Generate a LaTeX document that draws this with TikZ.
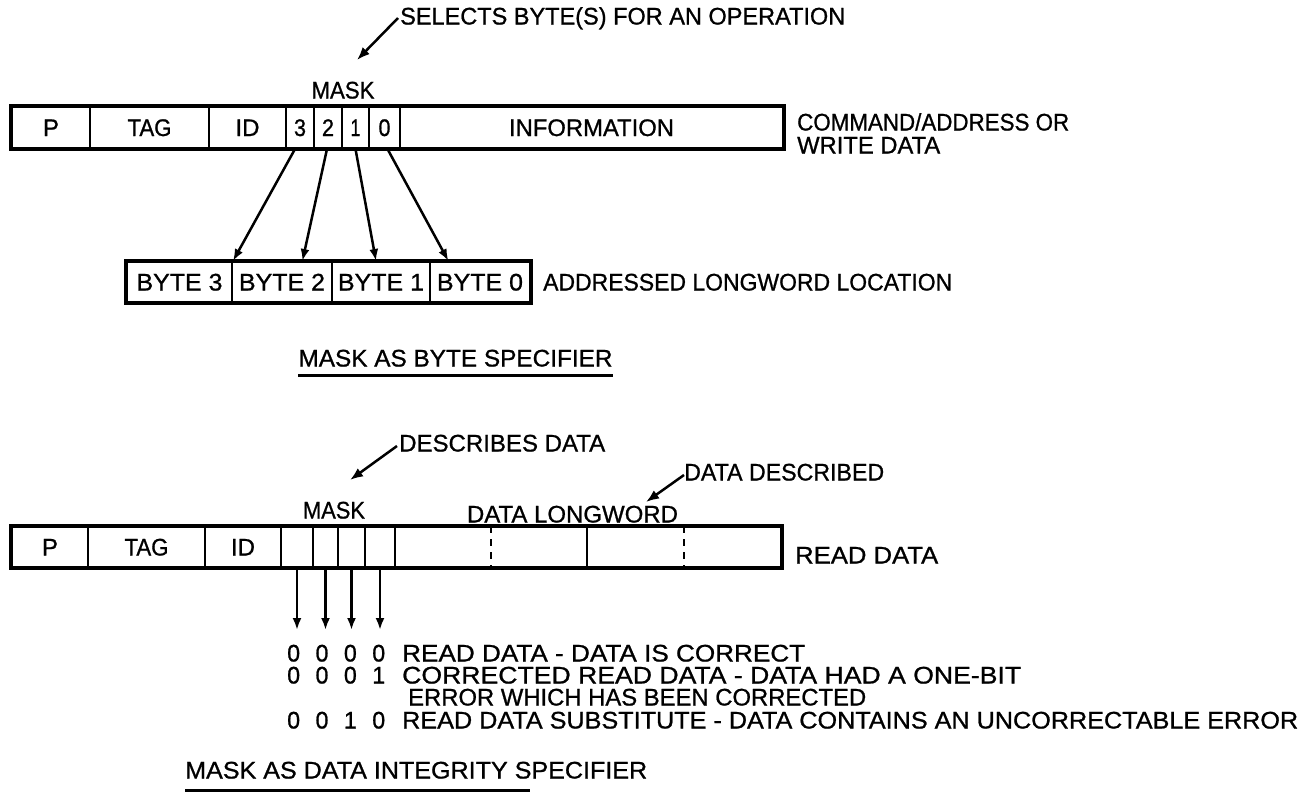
\documentclass[tikz,border=0pt]{standalone}
\usepackage{fontspec}
\setmainfont{Liberation Sans}[FakeBold=0.9]
\usepackage{graphicx}
\usetikzlibrary{arrows.meta,calc}
\newcommand{\fw}[2]{\resizebox{#1pt}{\height}{#2}}
\begin{document}
\begin{tikzpicture}[x=1pt,y=-1pt,
  every node/.style={font=\fontsize{24}{28}\selectfont},
  lbl/.style={inner sep=0pt, text height=17pt, text depth=0pt},
  cell/.style={draw, line width=2pt, inner sep=0pt, text height=17pt, text depth=0pt, minimum height=41pt},
  outer/.style={line width=4pt},
  conn/.style={line width=2.5pt, -{Latex[length=12pt,width=9pt]}},
  leader/.style={line width=2.5pt, -{Latex[length=13pt,width=10pt]}},
  dashdiv/.style={line width=2pt, dash pattern=on 7pt off 6pt},
  uline/.style={line width=2.5pt}]
\useasboundingbox (0,0) rectangle (1308,801);

% ---------- top register ----------
\node[cell, minimum width=78pt]  (p1)   at (51,127.5)   {P};
\node[cell, minimum width=119pt] (tag1) at (149.5,127.5) {\fw{44}{TAG}};
\node[cell, minimum width=77pt]  (id1)  at (247.5,127.5) {ID};
\node[cell, minimum width=28pt]  (m3)   at (300,127.5)   {\fw{12}{3}};
\node[cell, minimum width=28pt]  (m2)   at (328,127.5)   {\fw{12}{2}};
\node[cell, minimum width=27pt]  (m1)   at (355.5,127.5) {\fw{10}{1}};
\node[cell, minimum width=31pt]  (m0)   at (384.5,127.5) {\fw{12}{0}};
\node[cell, minimum width=383pt] (info) at (591.5,127.5) {\fw{165}{INFORMATION}};
\draw[outer] (p1.north west) rectangle (info.south east);

\node[lbl] (mask1) at (343,90) {\fw{63}{MASK}};
\node[lbl, anchor=west] (sel) at (400,16) {\fw{445}{SELECTS BYTE(S) FOR AN OPERATION}};
\coordinate (selTip) at (357,60);
\draw[leader] ($(sel.west)+(-2,2)$) -- (selTip);
\node[lbl, anchor=west] (cmd) at (797,122) {\fw{272}{COMMAND/ADDRESS OR}};
\node[lbl, anchor=west] (wd)  at (797,145) {\fw{143}{WRITE DATA}};

% ---------- byte box ----------
\node[cell, minimum height=40pt, minimum width=105pt] (b3) at (179.5,282) {\fw{86}{BYTE 3}};
\node[cell, minimum height=40pt, minimum width=100pt] (b2) at (282,282)   {\fw{86}{BYTE 2}};
\node[cell, minimum height=40pt, minimum width=98pt]  (b1) at (381,282)   {\fw{86}{BYTE 1}};
\node[cell, minimum height=40pt, minimum width=100pt] (b0) at (480,282)   {\fw{86}{BYTE 0}};
\draw[outer] (b3.north west) rectangle (b0.south east);
\node[lbl, anchor=west] (alw) at (543,282) {\fw{409}{ADDRESSED LONGWORD LOCATION}};

\draw[conn] ($(m3.south)+(-5,0)$) -- (b3.north east);
\draw[conn] ($(m2.south)+(-1,0)$) -- ($(b2.north west)!0.7!(b2.north east)$);
\draw[conn] (m1.south) -- ($(b1.north west)!0.45!(b1.north east)$);
\draw[conn] ($(m0.south)+(3,0)$) -- ($(b0.north west)!0.19!(b0.north east)$);

\node[lbl] (cap1) at (455.5,358) {\fw{314}{MASK AS BYTE SPECIFIER}};
\draw[uline] ($(cap1.south west)+(0,9)$) -- ($(cap1.south east)+(0,9)$);

% ---------- bottom register ----------
\node[lbl, anchor=west] (desc) at (399,443) {\fw{206}{DESCRIBES DATA}};
\coordinate (descTip) at (350,480);
\draw[leader] ($(desc.west)+(-2,3)$) -- (descTip);
\node[lbl, anchor=west] (ddesc) at (684,472) {\fw{200}{DATA DESCRIBED}};
\coordinate (ddTip) at (646,502);
\draw[leader] ($(ddesc.west)+(0,3)$) -- (ddTip);
\node[lbl] (mask2) at (334,510) {\fw{62}{MASK}};
\node[lbl] (dlw) at (572.5,514) {\fw{211}{DATA LONGWORD}};

\node[cell, minimum height=40pt, minimum width=76pt]  (p2)   at (50,547)    {P};
\node[cell, minimum height=40pt, minimum width=117pt] (tag2) at (146.5,547) {\fw{44}{TAG}};
\node[cell, minimum height=40pt, minimum width=76pt]  (id2)  at (243,547)   {ID};
\node[cell, minimum height=40pt, minimum width=32pt]  (dm3)  at (297,547)   {};
\node[cell, minimum height=40pt, minimum width=25pt]  (dm2)  at (325.5,547) {};
\node[cell, minimum height=40pt, minimum width=27pt]  (dm1)  at (351.5,547) {};
\node[cell, minimum height=40pt, minimum width=30pt]  (dm0)  at (380,547)   {};
\node[cell, minimum height=40pt, minimum width=192pt] (d1)   at (491,547)   {};
\node[cell, minimum height=40pt, minimum width=194pt] (d2)   at (684,547)   {};
\draw[outer] (p2.north west) rectangle (d2.south east);
\draw[dashdiv] (d1.north) -- (d1.south);
\draw[dashdiv] (d2.north) -- (d2.south);
\node[lbl, anchor=west] (rd) at (795,555) {\fw{143}{READ DATA}};

\coordinate (tipline) at (0,630);
\draw[conn] (dm3.south) -- (dm3.south |- tipline);
\draw[conn] (dm2.south) -- (dm2.south |- tipline);
\draw[conn] (dm1.south) -- (dm1.south |- tipline);
\draw[conn] (dm0.south) -- (dm0.south |- tipline);

% ---------- code table ----------
\node[lbl, anchor=west] (bits1) at (287,653) {\fw{98}{0\hspace{16pt}0\hspace{16pt}0\hspace{16pt}0}};
\node[lbl, anchor=west] (t1) at (402,653) {\fw{403}{READ DATA - DATA IS CORRECT}};
\node[lbl, anchor=west] (bits2) at (287,675) {\fw{98}{0\hspace{16pt}0\hspace{16pt}0\hspace{16pt}1}};
\node[lbl, anchor=west] (t2) at (402,675) {\fw{619}{CORRECTED READ DATA - DATA HAD A ONE-BIT}};
\node[lbl, anchor=west] (t3) at (408,697) {\fw{458}{ERROR WHICH HAS BEEN CORRECTED}};
\node[lbl, anchor=west] (bits4) at (287,720) {\fw{98}{0\hspace{16pt}0\hspace{16pt}1\hspace{16pt}0}};
\node[lbl, anchor=west] (t4) at (402,720) {\fw{896}{READ DATA SUBSTITUTE - DATA CONTAINS AN UNCORRECTABLE ERROR}};

\node[lbl, anchor=west] (cap2) at (185,770) {\fw{462}{MASK AS DATA INTEGRITY SPECIFIER}};
\draw[uline] ($(cap2.south west)+(0,12)$) -- ($(cap2.south west)+(345,12)$);
\end{tikzpicture}
\end{document}
